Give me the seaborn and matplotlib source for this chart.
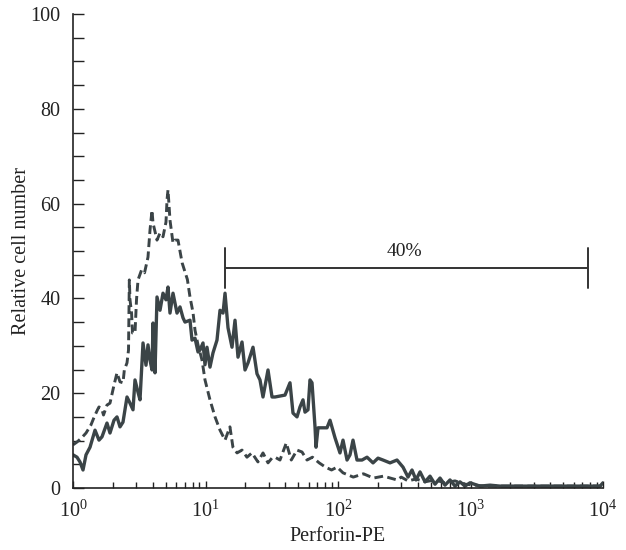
import numpy as np
import pandas as pd
import matplotlib
matplotlib.use("Agg")
import matplotlib.pyplot as plt
import seaborn as sns
from matplotlib.ticker import LogLocator, MultipleLocator, LogFormatterMathtext, NullFormatter

# ---- data ----
solid_x = [1.00, 1.072, 1.129, 1.190, 1.254, 1.344, 1.466, 1.571, 1.655, 1.805, 1.902, 2.039, 2.148,
           2.263, 2.384, 2.556, 2.693, 2.837, 2.937, 3.095, 3.204, 3.376, 3.556, 3.681, 3.812, 3.947,
           4.017, 4.158, 4.305, 4.536, 4.778, 5.032, 5.212, 5.396, 5.685, 6.094, 6.420, 6.765, 7.004,
           7.638, 7.909, 8.333, 8.779, 9.090, 9.575, 9.913, 10.26, 10.81, 11.39, 12.21, 12.87, 13.56,
           14.04, 14.79, 15.85, 16.70, 17.59, 18.86, 19.87, 20.94, 22.83, 24.47, 25.78, 27.16, 29.63,
           31.77, 33.46, 39.81, 43.42, 45.75, 49.05, 51.67, 54.43, 56.36, 59.37, 61.48, 63.66, 67.06,
           68.23, 70.67, 82.60, 87.04, 94.93, 103.5, 109.1, 117.0, 123.2, 129.8, 139.1, 151.8, 165.6,
           183.8, 200.4, 218.6, 246.9, 278.8, 309.5, 337.6, 361.9, 388.0, 415.9, 453.6, 494.8, 539.8,
           588.8, 642.0, 700.3, 763.8, 833.4, 908.8, 991.3, 1180, 1404, 1670, 2364, 3346, 4737, 6706,
           9494, 10000]
solid_y = [7.0, 6.5, 5.5, 3.8, 7.0, 8.6, 12.2, 10.1, 10.8, 13.7, 11.6, 14.3, 15.0,
           12.9, 13.9, 19.2, 17.9, 16.5, 22.8, 20.2, 18.6, 30.6, 25.9, 30.2, 27.0, 24.9,
           34.8, 24.3, 40.3, 37.5, 41.1, 39.7, 42.4, 36.9, 41.1, 36.9, 38.2, 35.9, 35.0,
           35.4, 31.2, 31.6, 28.7, 29.1, 30.6, 26.0, 29.7, 25.5, 28.5, 31.2, 37.5, 36.9,
           41.1, 33.8, 29.7, 35.4, 27.6, 30.8, 24.9, 26.4, 29.7, 24.1, 22.8, 19.2, 24.9,
           19.2, 19.2, 19.6, 22.2, 15.8, 15.0, 17.1, 18.6, 16.0, 16.5, 22.8, 22.2, 12.9,
           8.6, 12.7, 12.7, 14.3, 10.6, 7.4, 10.1, 5.9, 7.0, 10.1, 5.9, 5.9, 6.5,
           5.3, 6.3, 5.9, 5.3, 5.9, 4.4, 2.3, 3.8, 1.7, 3.4, 1.3, 2.5, 0.8,
           2.1, 0.6, 1.7, 0.4, 1.3, 0.4, 1.1, 0.4, 0.6, 0.4, 0.4, 0.4, 0.4, 0.4,
           0.4, 1.1]

dash_x = [1.00, 1.072, 1.155, 1.254, 1.366, 1.446, 1.531, 1.571, 1.655, 1.699, 1.805, 1.902, 2.039,
          2.148, 2.263, 2.384, 2.440, 2.556, 2.624, 2.662, 2.693, 2.767, 2.812, 2.937, 3.015, 3.095,
          3.293, 3.466, 3.681, 3.812, 3.947, 4.017, 4.305, 4.536, 4.778, 5.032, 5.125, 5.212, 5.304,
          5.396, 5.685, 5.885, 6.200, 6.662, 7.298, 7.638, 8.052, 8.333, 8.779, 9.409, 9.913, 10.81,
          11.80, 12.87, 14.04, 15.29, 16.11, 17.30, 18.86, 20.55, 22.41, 24.87, 27.16, 29.63, 31.69,
          33.46, 36.49, 40.70, 44.42, 49.05, 53.50, 58.38, 64.13, 72.11, 80.47, 89.39, 98.46, 109.1,
          130.4, 155.5, 185.0, 220.4, 278.8, 300.0, 337.6, 388.0, 452.2, 537.2, 641.6, 763.8, 908.8,
          1080, 1286, 1822, 2580, 3654, 5172, 7320, 9494, 10000]
dash_y = [9.1, 9.7, 10.5, 11.6, 13.3, 15.0, 16.5, 17.1, 16.5, 15.4, 17.5, 17.9, 21.7,
          24.3, 22.4, 22.2, 24.9, 26.4, 29.1, 43.9, 39.7, 36.9, 32.7, 32.7, 39.7, 43.9,
          46.0, 45.4, 48.7, 54.4, 58.6, 55.9, 52.3, 53.8, 53.0, 56.1, 60.8, 62.9, 59.7,
          56.5, 51.7, 52.3, 52.3, 47.5, 44.0, 40.3, 37.0, 33.3, 30.2, 27.0, 22.8, 18.6,
          15.0, 12.2, 10.1, 12.9, 8.6, 7.4, 8.0, 6.5, 7.4, 5.5, 7.4, 5.3, 6.3,
          6.5, 5.9, 9.5, 5.9, 8.0, 7.6, 5.9, 6.5, 5.3, 4.4, 3.8, 4.4, 3.2,
          2.3, 3.0, 2.1, 2.5, 1.7, 2.3, 1.5, 1.9, 1.3, 1.7, 1.1, 1.5, 0.8,
          0.6, 0.4, 0.4, 0.4, 0.4, 0.4, 0.4, 0.4, 0.8]

bar_x = [14.04, 7700]
bar_y = 46.4
bar_label = "40%"
bar_label_x = 320
bar_label_y = 49.8

xlabel = "Perforin-PE"
ylabel = "Relative cell number"

# ---- style ----
sns.set_theme(style="white")
plt.rcParams["font.family"] = ["Liberation Serif", "DejaVu Serif"]
plt.rcParams["mathtext.fontset"] = "custom"
plt.rcParams["mathtext.rm"] = "Liberation Serif"
plt.rcParams["mathtext.it"] = "Liberation Serif"
plt.rcParams["mathtext.default"] = "regular"

W, H = 626, 550
fig = plt.figure(figsize=(W / 100, H / 100), dpi=100)
ax = fig.add_axes([73 / W, 62 / H, 530 / W, 474 / H])

line_col = "#3b4447"
df_solid = pd.DataFrame({"x": solid_x, "y": solid_y})
df_dash = pd.DataFrame({"x": dash_x, "y": dash_y})
sns.lineplot(data=df_dash, x="x", y="y", ax=ax, color=line_col, lw=2.1,
             estimator=None, sort=False, linestyle=(0, (3.0, 1.5)))
sns.lineplot(data=df_solid, x="x", y="y", ax=ax, color=line_col, lw=2.4,
             estimator=None, sort=False)

ax.set_xscale("log")
ax.set_xlim(1, 1e4)
ax.set_ylim(0, 100)

ax.xaxis.set_major_locator(LogLocator(base=10, numticks=10))
ax.xaxis.set_minor_locator(LogLocator(base=10, subs=np.arange(2, 10), numticks=20))
ax.xaxis.set_major_formatter(LogFormatterMathtext())
ax.xaxis.set_minor_formatter(NullFormatter())
ax.yaxis.set_major_locator(MultipleLocator(20))
ax.yaxis.set_minor_locator(MultipleLocator(5))

ax.tick_params(axis="both", which="both", direction="in", color="#222222", width=1.0,
               labelsize=14.5, labelcolor="#222222", left=True, bottom=True,
               top=False, right=False)
ax.tick_params(axis="y", which="major", length=8, pad=9)
ax.tick_params(axis="y", which="minor", length=8)
ax.tick_params(axis="x", which="major", length=5, pad=9)
ax.tick_params(axis="x", which="minor", length=4)

for s in ["top", "right"]:
    ax.spines[s].set_visible(False)
for s in ["left", "bottom"]:
    ax.spines[s].set_color("#222222")
    ax.spines[s].set_linewidth(1.2)

# bracket annotation
ax.plot(bar_x, [bar_y, bar_y], color="#333333", lw=1.4, solid_capstyle="butt")
for bx in bar_x:
    ax.plot([bx, bx], [bar_y - 4.2, bar_y + 4.2], color="#333333", lw=1.4)
ax.text(bar_label_x, bar_label_y, bar_label, ha="center", va="center",
        fontsize=14, color="#222222")

ax.set_xlabel(xlabel, fontsize=14.5, color="#222222", labelpad=4)
ax.set_ylabel(ylabel, fontsize=14.5, color="#222222")
ax.yaxis.set_label_coords(-0.079, 0.5)

fig.savefig("out.png", dpi=100)
